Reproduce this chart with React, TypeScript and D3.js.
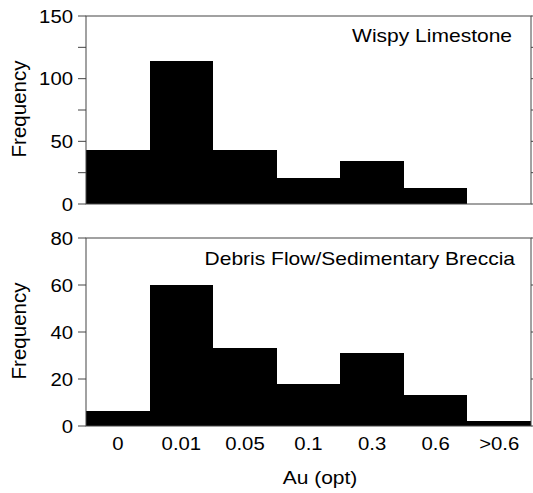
import React from "react";
import * as d3 from "d3";

const categories = ["0", "0.01", "0.05", "0.1", "0.3", "0.6", ">0.6"];
const wispyLimestone = [43, 114, 43, 21, 34, 13, 0];
const debrisFlow = [6.5, 60, 33, 18, 31, 13, 2];
const topTicks = [0, 25, 50, 75, 100, 125, 150];
const topLabels = [0, 50, 100, 150];
const bottomTicks = [0, 20, 40, 60, 80];
const bottomLabels = [0, 20, 40, 60, 80];

const W = 533;
const H = 493;
const left = 86;
const right = 531;
const font = "'Liberation Sans', Arial, Helvetica, sans-serif";
const SX = 1.13;

const x = d3.scaleBand<string>().domain(categories).range([left, right]).padding(0);

function T({ x, y, size, anchor, children, sx = SX }: any) {
  return (
    <text
      transform={`translate(${x},${y}) scale(${sx},1)`}
      textAnchor={anchor}
      fontSize={size}
      fontFamily={font}
      fill="#000"
    >
      {children}
    </text>
  );
}

function Panel({ values, yMax, ticks, labels, top, bottom, title, titleY, titleX }: any) {
  const y = d3.scaleLinear().domain([0, yMax]).range([bottom, top]);
  const area = d3
    .area<number>()
    .curve(d3.curveStepAfter)
    .x((_, i) => x(categories[i]) as number)
    .y0(bottom)
    .y1((v) => y(v));
  const pts = [...values, values[values.length - 1]];
  // step area: last point sits at right edge
  const stepPath = d3
    .area<number>()
    .curve(d3.curveStepAfter)
    .x((_, i) => (i < categories.length ? (x(categories[i]) as number) : right))
    .y0(bottom)
    .y1((v) => y(v))(pts);
  return (
    <g>
      <path d={stepPath || ""} fill="#000" shapeRendering="crispEdges" />
      <rect x={left} y={top} width={right - left} height={bottom - top} fill="none" stroke="#444" strokeWidth={1} />
      {ticks.map((t: number) => (
        <g key={t}>
          <line x1={left - 8} x2={left} y1={y(t)} y2={y(t)} stroke="#444" />
          <line x1={right} x2={right + 6} y1={y(t)} y2={y(t)} stroke="#444" />
        </g>
      ))}
      {labels.map((t: number) => (
        <T key={t} x={73} y={y(t) + 6.5} size={18} anchor="end">
          {t}
        </T>
      ))}
      <text
        transform={`translate(26,${(top + bottom) / 2 - 1}) rotate(-90)`}
        textAnchor="middle"
        fontSize={20.5}
        fontFamily={font}
        fill="#000"
      >
        Frequency
      </text>
      <T x={titleX} y={titleY} size={18.6} anchor="end">
        {title}
      </T>
    </g>
  );
}

export default function App() {
  return (
    <svg width={W} height={H} style={{ position: "absolute", left: 0, top: 0, background: "#fff" }}>
      <rect width={W} height={H} fill="#fff" />
      <Panel values={wispyLimestone} yMax={150} ticks={topTicks} labels={topLabels} top={16} bottom={204} title="Wispy Limestone" titleY={41.5} titleX={512} />
      <Panel values={debrisFlow} yMax={80} ticks={bottomTicks} labels={bottomLabels} top={238} bottom={426} title="Debris Flow/Sedimentary Breccia" titleY={265} titleX={515} />
      {categories.map((c) => (
        <T key={c} x={(x(c) as number) + x.bandwidth() / 2} y={450} size={18} anchor="middle">
          {c}
        </T>
      ))}
      <T x={320} y={484} size={18.6} anchor="middle">
        Au (opt)
      </T>
    </svg>
  );
}
